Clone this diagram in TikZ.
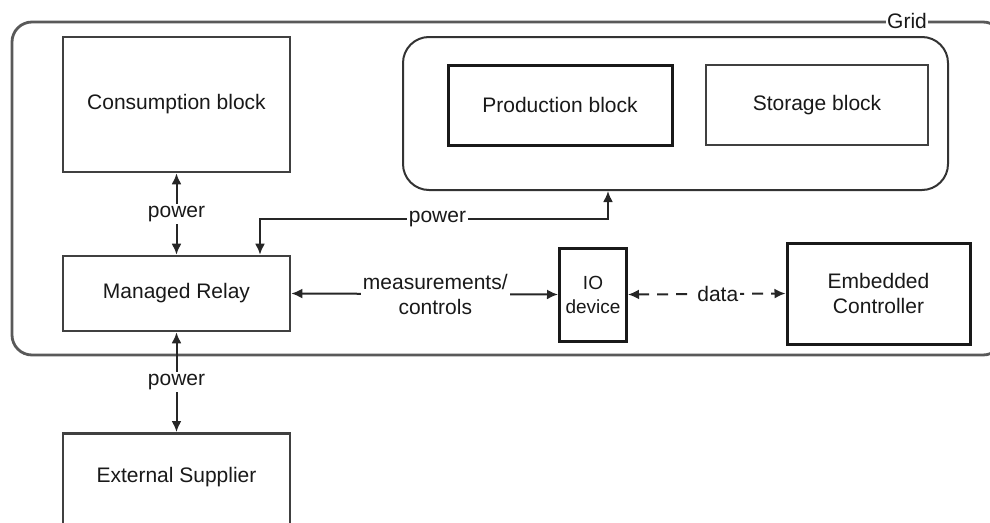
\documentclass[tikz,border=0pt]{standalone}
\usepackage{fontspec}
\setmainfont{Liberation Sans}
\usetikzlibrary{arrows.meta,calc}
\begin{document}
\begin{tikzpicture}[x=1pt,y=-1pt,
  every node/.style={font=\fontsize{21}{25}\selectfont, text=black!90},
  blockbox/.style={draw=black!75, line width=2.6pt, fill=white, inner sep=0pt},
  darkbox/.style={draw=black!90, line width=3pt, fill=white, inner sep=0pt},
  lbl/.style={fill=white, inner sep=2pt},
  biarrow/.style={line width=2pt, draw=black!85, {Latex[length=11pt,width=10pt]}-{Latex[length=11pt,width=10pt]}},
  gridframe/.style={draw=black!65, line width=2.8pt, rounded corners=20pt},
  holder/.style={draw=black!80, line width=2pt, rounded corners=26pt, inner sep=0pt}
]
\useasboundingbox (0,0) rectangle (990,522);
\begin{scope}
\clip (0,0) rectangle (990,522);
% grid frame
\draw[gridframe] (12,22) rectangle (1003,355);
\node[fill=white, inner sep=1.5pt] (gridlbl) at (907,21) {Grid};

% holder of production and storage
\node[holder, minimum width=545pt, minimum height=153pt] (cont) at (675.5,113.5) {};
\node[darkbox, minimum width=224pt, minimum height=80pt] (prod) at (560,105) {Production block};
\node[blockbox, minimum width=222pt, minimum height=80pt] (stor) at (817,105) {Storage block};

% blocks
\node[blockbox, minimum width=227pt, minimum height=135pt] (cons) at (176.5,104.5) {Consumption block};
\node[blockbox, minimum width=227pt, minimum height=75pt] (relay) at (176.5,293.5) {Managed Relay};
\node[darkbox, minimum width=67pt, minimum height=93pt, align=center, font=\fontsize{19}{24}\selectfont] (io) at (593,294.5) {IO\\device};
\node[darkbox, minimum width=183pt, minimum height=101pt, align=center] (emb) at (878.5,293.5) {Embedded\\Controller};
\node[blockbox, minimum width=227pt, minimum height=116pt, anchor=north] (ext) at (176.5,432) {};
\node at (176.5,477) {External Supplier};

% connectors
\draw[biarrow] (cons.south) -- node[lbl]{power} (relay.north);
\draw[biarrow] (relay.south) -- node[lbl]{power} (ext.north);
\path (cont.south) ++(-67.5,0) coordinate (pwtop);
\path (relay.north) ++(83.5,0) coordinate (pwbot);
\draw[biarrow] (pwtop) -- ++(0,28) -| node[lbl, pos=0.245]{power} (pwbot);
\draw[biarrow] (relay.east) -- node[lbl, pos=0.54, align=center]{measurements/\\controls} (io.west);
\draw[biarrow, dash pattern=on 11pt off 8pt] (io.east) -- node[lbl, pos=0.57]{data} (emb.west);
\end{scope}
\end{tikzpicture}
\end{document}
